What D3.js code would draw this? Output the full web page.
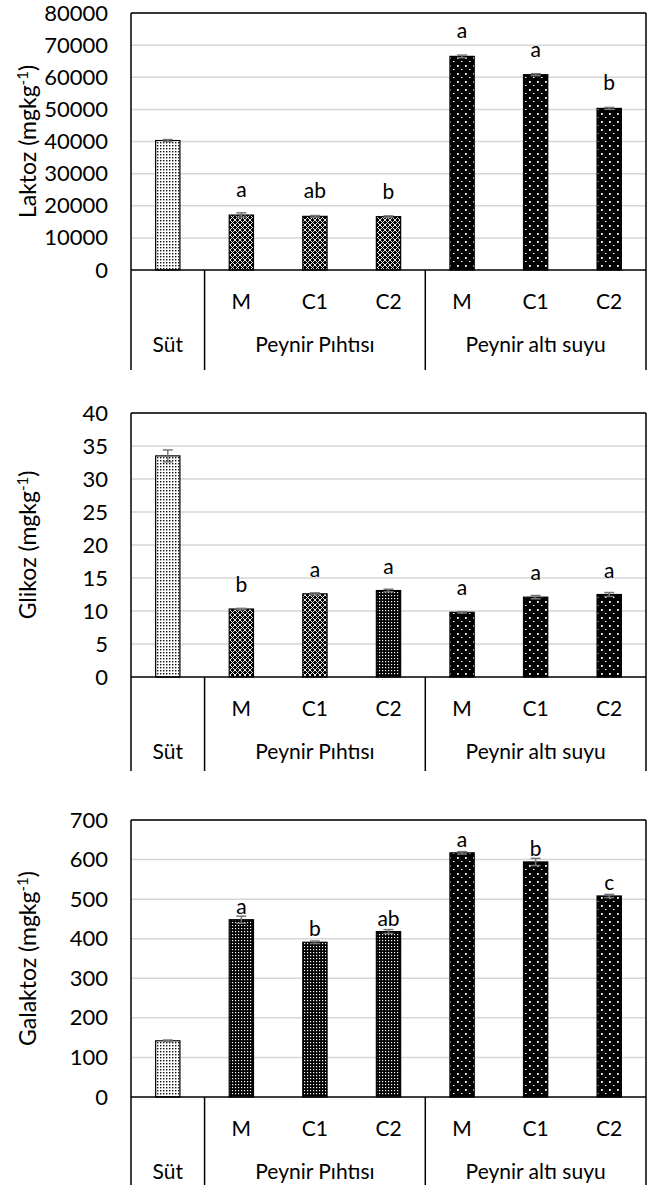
<!DOCTYPE html>
<html>
<head>
<meta charset="utf-8">
<script src="https://cdn.jsdelivr.net/npm/d3@7"></script>
<style>
  body { margin: 0; background: #fff; }
  svg { display: block; }
  text { font-family: Lato, "Open Sans", sans-serif; fill: #000; }
</style>
</head>
<body>
<svg id="chart" width="651" height="1185"></svg>
<script>
// Categories (two-level axis)
const categories = ["Süt", "M", "C1", "C2", "M", "C1", "C2"];
const groupLabels = ["Süt", "Peynir Pıhtısı", "Peynir altı suyu"];
const groupSizes = [1, 3, 3];

// Laktoz (mg kg-1)
const laktozValues = [40300, 17100, 16700, 16600, 66500, 60800, 50300];
const laktozErrors = [300, 700, 250, 250, 400, 300, 300];
const laktozLetters = ["", "a", "ab", "b", "a", "a", "b"];
const laktozTicks = [0, 10000, 20000, 30000, 40000, 50000, 60000, 70000, 80000];

// Glikoz (mg kg-1)
const glikozValues = [33.5, 10.3, 12.6, 13.1, 9.8, 12.1, 12.5];
const glikozErrors = [0.9, 0.1, 0.15, 0.2, 0.1, 0.25, 0.3];
const glikozLetters = ["", "b", "a", "a", "a", "a", "a"];
const glikozTicks = [0, 5, 10, 15, 20, 25, 30, 35, 40];

// Galaktoz (mg kg-1)
const galaktozValues = [142, 448, 391, 418, 617, 594, 508];
const galaktozErrors = [2, 9, 3, 5, 3, 9, 4];
const galaktozLetters = ["", "a", "b", "ab", "a", "b", "c"];
const galaktozTicks = [0, 100, 200, 300, 400, 500, 600, 700];

const svg = d3.select("#chart");
const defs = svg.append("defs");

// Fill patterns for the three sample types
function pattern(id, size, bg, marks) {
  const p = defs.append("pattern")
    .attr("id", id).attr("patternUnits", "userSpaceOnUse")
    .attr("width", size).attr("height", size);
  p.append("rect").attr("width", size).attr("height", size).attr("fill", bg);
  marks(p);
}
pattern("milk", 3, "#fff", p => {
  p.append("rect").attr("x", 1).attr("y", 1).attr("width", 1.4).attr("height", 1.4).attr("fill", "#111");
});
pattern("curd", 5, "#000", p => {
  p.append("path").attr("d", "M0,0L5,5M5,0L0,5").attr("stroke", "#fff").attr("stroke-width", 0.9);
});
pattern("curdGrid", 3, "#000", p => {
  p.append("rect").attr("x", 1).attr("y", 1).attr("width", 1.2).attr("height", 1.2).attr("fill", "#fff");
});
pattern("whey", 8, "#000", p => {
  p.append("rect").attr("x", 1).attr("y", 1).attr("width", 1.8).attr("height", 1.8).attr("fill", "#fff");
  p.append("rect").attr("x", 5).attr("y", 5).attr("width", 1.5).attr("height", 1).attr("fill", "#fff");
});

const plotLeft = 131, plotRight = 646;
const fontSize = "21px";

const x = d3.scaleBand()
  .domain(d3.range(categories.length))
  .range([plotLeft, plotRight])
  .paddingInner(0.67)
  .paddingOuter(0.335);

function drawChart(cfg) {
  const g = svg.append("g");
  const y = d3.scaleLinear()
    .domain([0, d3.max(cfg.ticks)])
    .range([cfg.bottom, cfg.top]);

  // gridlines
  g.append("g").selectAll("line")
    .data(cfg.ticks.slice(1))
    .join("line")
    .attr("x1", plotLeft).attr("x2", plotRight)
    .attr("y1", d => y(d)).attr("y2", d => y(d))
    .attr("stroke", "#d6d6d6").attr("stroke-width", 1.5);

  // value axis labels
  const ax = g.append("g")
    .attr("transform", `translate(${plotLeft},0)`)
    .call(d3.axisLeft(y).tickValues(cfg.ticks).tickSize(0).tickPadding(23).tickFormat(d3.format("d")));
  ax.select(".domain").remove();
  ax.selectAll("text").style("font-size", "22px").attr("fill", "#000");

  // axis title with superscript
  const t = g.append("text")
    .attr("transform", `translate(36,${(cfg.top + cfg.bottom) / 2}) rotate(-90)`)
    .attr("text-anchor", "middle")
    .style("font-size", "23px");
  t.append("tspan").text(cfg.title + " (mgkg");
  t.append("tspan").attr("dy", -8).style("font-size", "15px").text("-1");
  t.append("tspan").attr("dy", 8).text(")");

  const data = cfg.values.map((v, i) => ({ i, v, e: cfg.errors[i], l: cfg.letters[i], f: cfg.fills[i] }));

  // bars
  g.append("g").selectAll("rect")
    .data(data)
    .join("rect")
    .attr("x", d => x(d.i))
    .attr("width", x.bandwidth())
    .attr("y", d => y(d.v))
    .attr("height", d => y(0) - y(d.v))
    .attr("fill", d => `url(#${d.f})`)
    .attr("stroke", "#000")
    .attr("stroke-width", 1.2);

  // error bars
  const eb = g.append("g").attr("stroke", "#767676").attr("stroke-width", 1.5);
  data.forEach(d => {
    const cx = x(d.i) + x.bandwidth() / 2;
    eb.append("line").attr("x1", cx).attr("x2", cx).attr("y1", y(d.v + d.e)).attr("y2", y(d.v - d.e));
    eb.append("line").attr("x1", cx - 5).attr("x2", cx + 5).attr("y1", y(d.v + d.e)).attr("y2", y(d.v + d.e));
    eb.append("line").attr("x1", cx - 5).attr("x2", cx + 5).attr("y1", y(d.v - d.e)).attr("y2", y(d.v - d.e));
  });

  // significance letters
  g.append("g").selectAll("text")
    .data(data.filter(d => d.l))
    .join("text")
    .attr("x", d => x(d.i) + x.bandwidth() / 2)
    .attr("y", d => y(d.v) - cfg.letterGap)
    .attr("text-anchor", "middle")
    .style("font-size", fontSize)
    .text(d => d.l);

  // frame: top, left, right and baseline
  const frame = g.append("g").attr("stroke", "#000").attr("stroke-width", 1.5).attr("fill", "none");
  const base = y(0);
  const catBottom = base + cfg.catDepth;
  frame.append("line").attr("x1", plotLeft).attr("x2", plotRight).attr("y1", cfg.top).attr("y2", cfg.top);
  frame.append("line").attr("x1", plotLeft).attr("x2", plotRight).attr("y1", base).attr("y2", base);
  frame.append("line").attr("x1", plotLeft).attr("x2", plotLeft).attr("y1", cfg.top).attr("y2", catBottom);
  frame.append("line").attr("x1", plotRight).attr("x2", plotRight).attr("y1", cfg.top).attr("y2", catBottom);

  // category axis: group separators and labels
  const step = x.step();
  let start = 0;
  groupSizes.forEach((n, gi) => {
    const x0 = plotLeft + start * step;
    const x1 = plotLeft + (start + n) * step;
    if (start > 0) {
      frame.append("line").attr("x1", x0).attr("x2", x0).attr("y1", base).attr("y2", catBottom);
    }
    g.append("text")
      .attr("x", (x0 + x1) / 2)
      .attr("y", base + 82)
      .attr("text-anchor", "middle")
      .style("font-size", fontSize)
      .text(groupLabels[gi]);
    if (n > 1) {
      for (let k = start; k < start + n; k++) {
        g.append("text")
          .attr("x", x(k) + x.bandwidth() / 2)
          .attr("y", base + 39)
          .attr("text-anchor", "middle")
          .style("font-size", fontSize)
          .text(categories[k]);
      }
    }
    start += n;
  });
}

const fillsA = ["milk", "curd", "curd", "curd", "whey", "whey", "whey"];
const fillsB = ["milk", "curd", "curd", "curdGrid", "whey", "whey", "whey"];
const fillsC = ["milk", "curdGrid", "curdGrid", "curdGrid", "whey", "whey", "whey"];

drawChart({ title: "Laktoz", values: laktozValues, errors: laktozErrors, letters: laktozLetters,
  ticks: laktozTicks, top: 13, bottom: 270, catDepth: 100, letterGap: 18, fills: fillsA });
drawChart({ title: "Glikoz", values: glikozValues, errors: glikozErrors, letters: glikozLetters,
  ticks: glikozTicks, top: 413, bottom: 677, catDepth: 94, letterGap: 17, fills: fillsB });
drawChart({ title: "Galaktoz", values: galaktozValues, errors: galaktozErrors, letters: galaktozLetters,
  ticks: galaktozTicks, top: 820, bottom: 1097, catDepth: 95, letterGap: 6, fills: fillsC });
</script>
</body>
</html>
